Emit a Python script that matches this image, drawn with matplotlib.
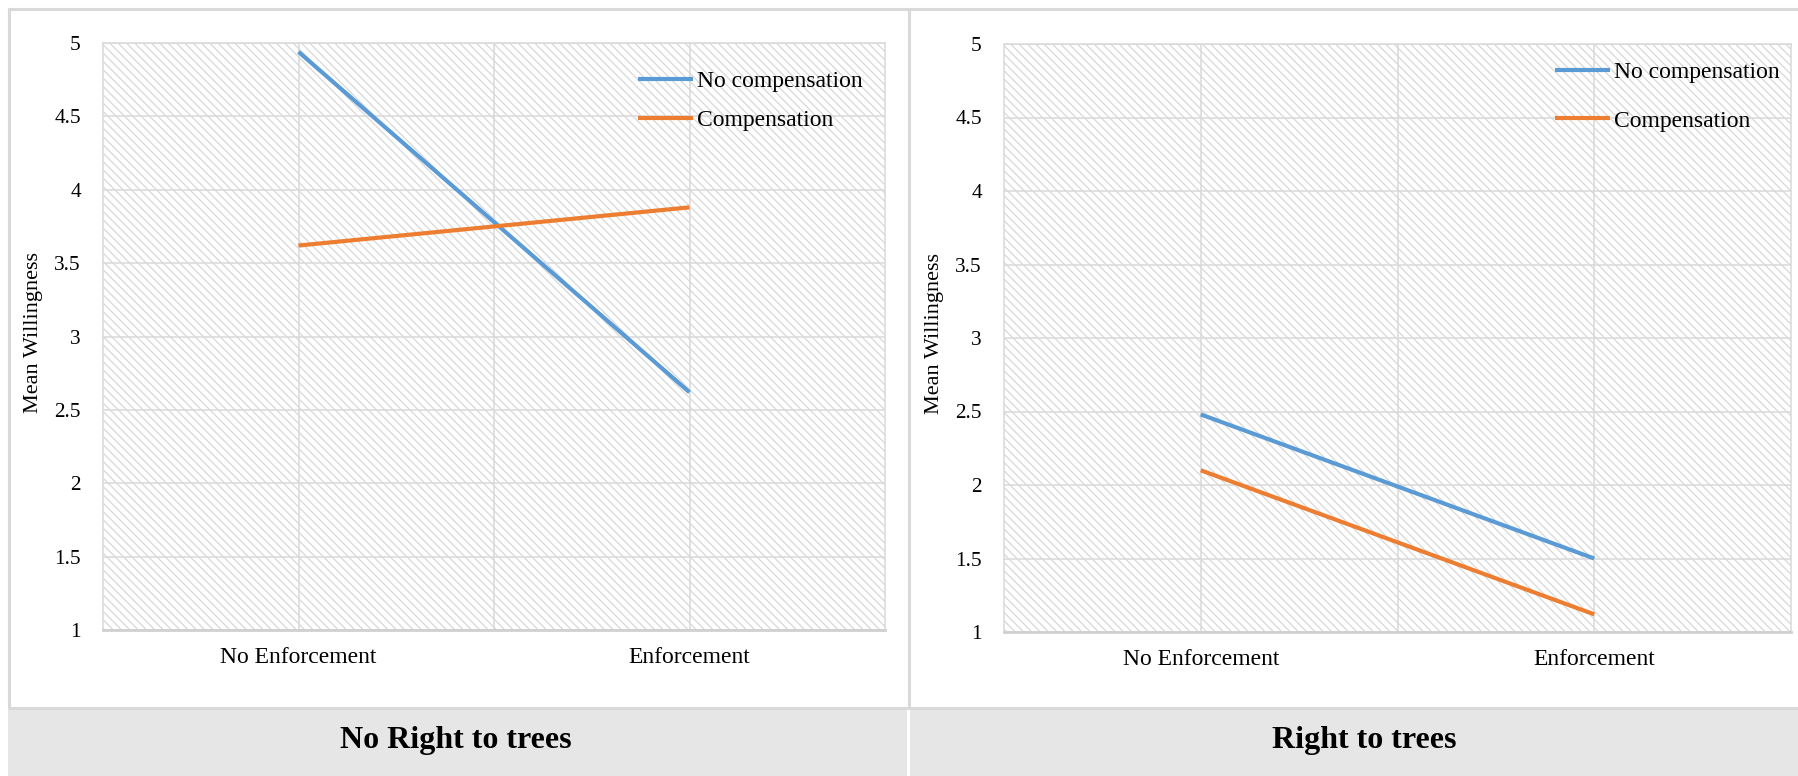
import matplotlib
matplotlib.use("Agg")
import matplotlib.pyplot as plt
from matplotlib.patches import Rectangle
from matplotlib.lines import Line2D

plt.rcParams['font.family'] = ['Liberation Serif', 'DejaVu Serif']
plt.rcParams['hatch.linewidth'] = 0.9

# Data
conditions = ["No Enforcement", "Enforcement"]
series_names = ["No compensation", "Compensation"]
no_right_no_comp = [4.94, 2.62]
no_right_comp = [3.62, 3.88]
right_no_comp = [2.48, 1.50]
right_comp = [2.10, 1.12]
panel_titles = ["No Right to trees", "Right to trees"]
y_ticks = [1, 1.5, 2, 2.5, 3, 3.5, 4, 4.5, 5]
y_tick_labels = ["1", "1.5", "2", "2.5", "3", "3.5", "4", "4.5", "5"]

BLUE = "#5b9bd5"
ORANGE = "#ed7d31"
GRID = "#d9d9d9"
HATCH = "#d8d8d8"
BAND = "#e6e6e6"

W, H = 1798, 776
fig = plt.figure(figsize=(W / 100, H / 100), dpi=100)
fig.patch.set_facecolor("white")

# Table frame behind the charts (pixel coordinates)
bg = fig.add_axes([0, 0, 1, 1], zorder=0)
bg.set_xlim(0, W)
bg.set_ylim(H, 0)
bg.axis("off")
bg.add_patch(Rectangle((8, 709), 899, 70, facecolor=BAND, edgecolor="none"))
bg.add_patch(Rectangle((910, 709), 890, 70, facecolor=BAND, edgecolor="none"))
frame_kw = dict(color=GRID, lw=2.2, solid_capstyle="butt")
bg.add_line(Line2D([8, W], [8.5, 8.5], **frame_kw))
bg.add_line(Line2D([8.5, 8.5], [8, 708], **frame_kw))
bg.add_line(Line2D([908.5, 908.5], [8, 708], **frame_kw))
bg.add_line(Line2D([8, W], [708, 708], **frame_kw))

def px_axes(x0, y0, x1, y1):
    return fig.add_axes([x0 / W, 1 - y1 / H, (x1 - x0) / W, (y1 - y0) / H], zorder=1)

def draw_panel(ax, no_comp, comp, ylabel_x, legend_xy, legend_gap):
    x = list(range(len(conditions)))
    ax.add_patch(Rectangle((0, 0), 1, 1, transform=ax.transAxes, facecolor="white",
                           edgecolor=HATCH, hatch="\\" * 4, linewidth=0, zorder=0))
    ax.set_xlim(-0.5, 1.5)
    ax.set_ylim(1, 5)
    for gx in [0, 0.5, 1]:
        ax.axvline(gx, color=GRID, lw=1.1, zorder=1)
    for gy in y_ticks:
        ax.axhline(gy, color=GRID, lw=1.1, zorder=1)
    l1, = ax.plot(x, no_comp, color=BLUE, lw=3.0, zorder=3, solid_capstyle="butt",
                  label=series_names[0])
    l2, = ax.plot(x, comp, color=ORANGE, lw=3.0, zorder=3, solid_capstyle="butt",
                  label=series_names[1])
    ax.set_xticks(x)
    ax.set_xticklabels(conditions, fontsize=17)
    ax.set_yticks(y_ticks)
    ax.set_yticklabels(y_tick_labels, fontsize=15.3)
    ax.tick_params(axis="y", length=0, pad=16)
    ax.tick_params(axis="x", length=0, pad=12)
    for s in ["top", "left", "right"]:
        ax.spines[s].set_color(GRID)
        ax.spines[s].set_linewidth(1.1)
    ax.spines["bottom"].set_color("#d0d0d0")
    ax.spines["bottom"].set_linewidth(2.0)
    ax.set_ylabel("Mean Willingness", fontsize=16, va="center")
    ax.yaxis.set_label_coords(ylabel_x, 0.507)
    ax.legend(handles=[l1, l2], loc="upper left", bbox_to_anchor=legend_xy,
              frameon=False, fontsize=17, handlelength=2.35, handletextpad=0.15,
              borderpad=0, borderaxespad=0, labelspacing=legend_gap)

ax1 = px_axes(103, 43, 885, 630)
draw_panel(ax1, no_right_no_comp, no_right_comp, -0.0895, (0.684, 0.953), 0.74)
ax2 = px_axes(1004, 44, 1791, 632)
draw_panel(ax2, right_no_comp, right_comp, -0.0882, (0.700, 0.970), 1.14)

bg.text(456, 748, panel_titles[0], fontsize=23, fontweight="bold", ha="center", va="baseline")
bg.text(1364, 748, panel_titles[1], fontsize=23, fontweight="bold", ha="center", va="baseline")

fig.savefig("out.png", dpi=100, facecolor="white")
